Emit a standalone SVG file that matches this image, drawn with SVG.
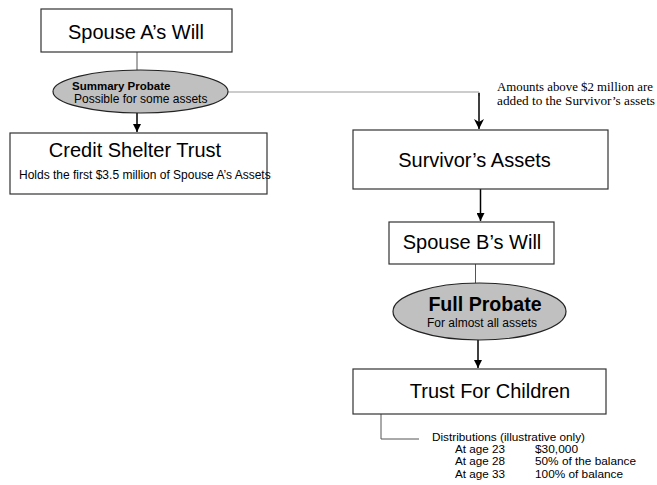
<svg xmlns="http://www.w3.org/2000/svg" width="657" height="485" viewBox="0 0 657 485">
<style>
.box{fill:#fff;stroke:#333;stroke-width:1.2}
.ell{fill:#c0c0c0;stroke:#222;stroke-width:1.2}
.t{font-family:"Liberation Sans",Arial,sans-serif;fill:#000}
.big{font-size:20px}
.sm{font-size:12px}
.xs{font-size:11px}
.serif{font-family:"Liberation Serif","DejaVu Serif",serif;font-size:12.5px;fill:#000}
.conn{fill:none;stroke:#000;stroke-width:1.5}
.thin{fill:none;stroke:#555;stroke-width:1}
.gray{fill:none;stroke:#999;stroke-width:1}
</style>
<defs>
<marker id="ah" viewBox="0 0 10 10" refX="10" refY="5" markerWidth="8" markerHeight="8" markerUnits="userSpaceOnUse" orient="auto">
<path d="M0,0 L10,5 L0,10 Z" fill="#000"/>
</marker>
<marker id="ah2" viewBox="0 0 10 10" refX="10" refY="5" markerWidth="12" markerHeight="10" markerUnits="userSpaceOnUse" orient="auto">
<path d="M0,0 L10,5 L0,10 L3,5 Z" fill="#000"/>
</marker>
</defs>
<g id="connectors">
<line class="thin" x1="137" y1="52" x2="137" y2="70"/>
<line class="conn" x1="137" y1="113" x2="137" y2="132" marker-end="url(#ah)"/>
<polyline class="gray" points="228,92 479,92 479,96"/>
<line class="conn" x1="479" y1="93" x2="479" y2="129" marker-end="url(#ah2)"/>
<line class="conn" x1="480.5" y1="189" x2="480.5" y2="221" marker-end="url(#ah)"/>
<line class="thin" x1="475.5" y1="264" x2="475.5" y2="283"/>
<line class="conn" x1="478" y1="340" x2="478" y2="368" marker-end="url(#ah)"/>
<polyline class="thin" points="381,414 381,439 419,439"/>
</g>
<g id="spouseA">
<rect class="box" x="41" y="9" width="191" height="43"/>
<text class="t" x="136" y="39" font-size="20" text-anchor="middle">Spouse A’s Will</text>
</g>
<g id="summaryProbate">
<ellipse class="ell" cx="140.5" cy="91.5" rx="87.5" ry="21.5"/>
<text class="t" x="72" y="90" font-size="11.5" font-weight="bold">Summary Probate</text>
<text class="t sm" x="74" y="103">Possible for some assets</text>
</g>
<g id="creditShelter">
<rect class="box" x="10" y="133" width="257" height="61"/>
<text class="t big" x="135" y="157" text-anchor="middle">Credit Shelter Trust</text>
<text class="t sm" x="19" y="179">Holds the first $3.5 million of Spouse A’s Assets</text>
</g>
<g id="note">
<text class="serif" x="497" y="91" textLength="156" lengthAdjust="spacingAndGlyphs">Amounts above $2 million are</text>
<text class="serif" x="497" y="105" textLength="158" lengthAdjust="spacingAndGlyphs">added to the Survivor’s assets</text>
</g>
<g id="survivor">
<rect class="box" x="353" y="130" width="255" height="59"/>
<text class="t big" x="474.5" y="167" text-anchor="middle">Survivor’s Assets</text>
</g>
<g id="spouseB">
<rect class="box" x="389" y="222" width="165" height="42"/>
<text class="t big" x="472" y="249" text-anchor="middle">Spouse B’s Will</text>
</g>
<g id="fullProbate">
<ellipse class="ell" cx="479.5" cy="311.5" rx="86.5" ry="28.5"/>
<text class="t" x="485" y="311" font-size="19.6" font-weight="bold" text-anchor="middle">Full Probate</text>
<text class="t sm" x="482" y="327" text-anchor="middle">For almost all assets</text>
</g>
<g id="trustChildren">
<rect class="box" x="353" y="369" width="253" height="45"/>
<text class="t big" x="490" y="398" text-anchor="middle">Trust For Children</text>
</g>
<g id="distributions">
<text class="t xs" x="432" y="440.6" textLength="153" lengthAdjust="spacingAndGlyphs">Distributions (illustrative only)</text>
<text class="t xs" x="455" y="453" textLength="50" lengthAdjust="spacingAndGlyphs">At age 23</text>
<text class="t xs" x="535" y="453" textLength="43" lengthAdjust="spacingAndGlyphs">$30,000</text>
<text class="t xs" x="455" y="465.4" textLength="50" lengthAdjust="spacingAndGlyphs">At age 28</text>
<text class="t xs" x="535" y="465.4" textLength="101" lengthAdjust="spacingAndGlyphs">50% of the balance</text>
<text class="t xs" x="455" y="477.8" textLength="50" lengthAdjust="spacingAndGlyphs">At age 33</text>
<text class="t xs" x="535" y="477.8" textLength="88" lengthAdjust="spacingAndGlyphs">100% of balance</text>
</g>
</svg>
